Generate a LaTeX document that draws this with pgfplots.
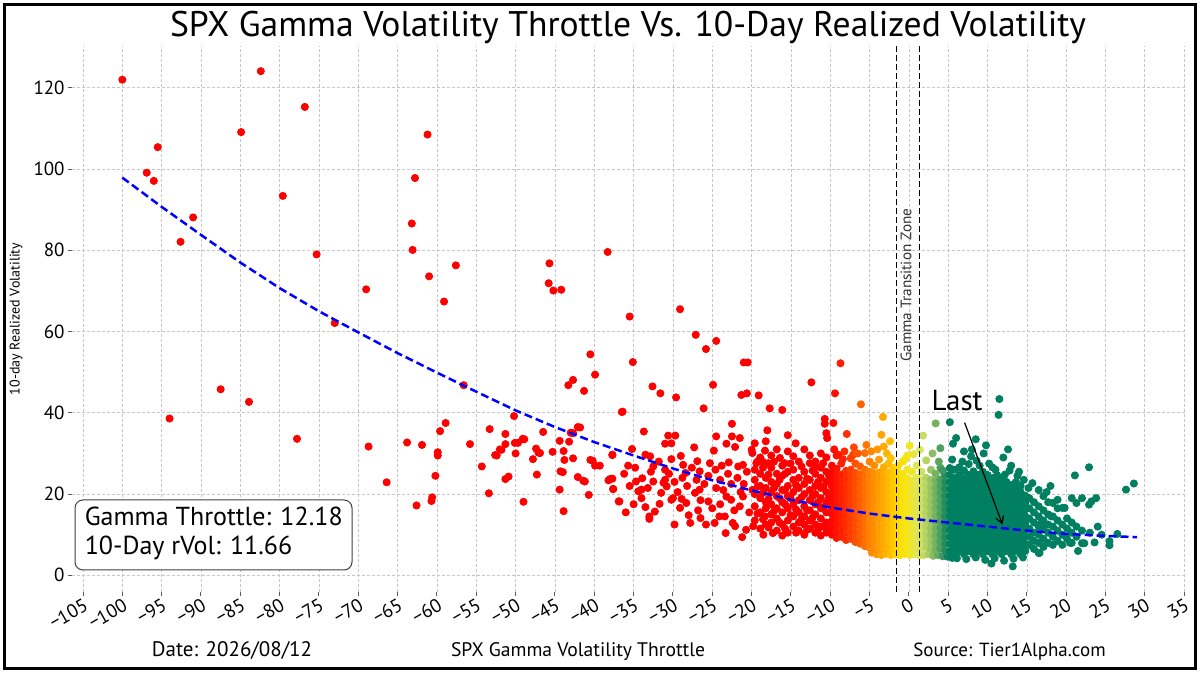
\documentclass[border=0pt]{standalone}
\usepackage{pgfplots}
\pgfplotsset{compat=1.18}
\usepackage{fontspec}
\setmainfont{PT Sans}
\usetikzlibrary{arrows.meta}
\begin{document}
\begin{tikzpicture}
\path[use as bounding box] (0,0) rectangle (600pt,339.5pt);
\begin{axis}[
  at={(36pt,43.5pt)}, anchor=south west,
  scale only axis, width=556.5pt, height=273pt,
  xmin=-106.4, xmax=35.1, ymin=-4.1, ymax=130.3,
  clip mode=individual,
  axis line style={draw=none},
  xtick={-105,-100,...,35},
  xticklabels={−105,−100,−95,−90,−85,−80,−75,−70,−65,−60,−55,−50,−45,−40,−35,−30,−25,−20,−15,−10,−5,0,5,10,15,20,25,30,35},
  ytick={0,20,40,60,80,100,120},
  yticklabels={0,20,40,60,80,100,120},
  tick pos=left, tick align=outside, major tick length=2pt,
  tick style={color=black!65, line width=0.5pt},
  xticklabel style={rotate=30, anchor=north east, inner sep=0.5pt, font=\fontsize{9.5}{10}\selectfont},
  yticklabel style={font=\fontsize{9.5}{10}\selectfont, inner sep=1.5pt},
  grid=major,
  grid style={color=black!22, line width=0.4pt, dash pattern=on 1.5pt off 1pt},
  colormap={throttle}{rgb255(0pt)=(255,0,0) rgb255(20pt)=(255,45,0) rgb255(40pt)=(255,100,0) rgb255(50pt)=(255,130,0) rgb255(70pt)=(255,175,0) rgb255(84pt)=(255,210,0) rgb255(90pt)=(250,225,0) rgb255(100pt)=(245,230,30) rgb255(114pt)=(215,230,100) rgb255(125pt)=(170,205,100) rgb255(135pt)=(110,175,95) rgb255(143pt)=(60,150,95) rgb255(150pt)=(0,128,96)},
  point meta min=-10, point meta max=5,
]
\addplot[scatter, only marks, mark=*, mark size=1.8pt, scatter src=x,
  scatter/use mapped color={draw=mapped color, fill=mapped color}] coordinates {
(-100,122.0)(-82.4,124.1)(-76.8,115.3)(-84.9,109.1)(-61.2,108.5)(-95.5,105.4)(-96.9,99.1)(-96.0,97.1)(-62.8,97.8)(-79.6,93.4)
(-91.0,88.1)(-92.6,82.1)(-63.2,86.6)(-63.1,80.1)(-75.3,79.0)(-57.6,76.3)(-61.0,73.6)(-45.7,76.8)(-45.8,71.9)(-45.2,70.1)
(-44.2,70.3)(-69.0,70.4)(-59.1,67.4)(-73.0,62.1)(-94.0,38.6)(-87.5,45.8)(-83.9,42.7)(-77.8,33.6)(-68.7,31.7)(-66.4,22.9)
(-63.8,32.7)(-61.9,32.1)(-62.6,17.2)(-59.9,30.3)(-59.9,29.5)(-60.2,24.5)(-59.6,35.5)(-58.9,37.5)(-60.6,19.2)(-60.7,18.3)
(-56.6,46.8)(-55.8,32.3)(-54.3,26.8)(-53.3,36.0)(-53.4,20.2)(-52.6,29.6)(-52.0,31.0)(-51.3,34.8)(-51.3,32.3)(-51.3,23.7)
(-50.9,24.3)(-50.2,39.2)(-50.1,32.6)(-49.7,32.6)(-50.0,30.0)(-49.1,33.6)(-49.0,18.1)(-47.8,28.6)(-47.4,31.2)(-47.1,30.2)
(-47.3,24.8)(-46.5,35.3)(-45.3,30.4)(-44.4,33.1)(-43.9,30.6)(-43.8,28.4)(-44.3,25.6)(-44.4,21.1)(-43.9,15.8)(-43.2,32.9)
(-43.0,35.1)(-42.7,28.8)(-42.1,36.5)(-42.1,24.2)(-41.4,23.3)(-40.7,19.8)(-40.5,28.4)(-39.9,27.0)(-43.3,46.8)(-42.7,48.1)
(-41.3,45.4)(-40.5,54.4)(-39.9,49.4)(-52.4,29.5)(-51.8,30.9)(-48.9,33.5)(-46.9,30.1)(-42.7,35.0)(-41.8,36.4)(-44.0,25.4)
(-41.2,23.1)(-40.2,28.2)(-38.2,23.4)(-37.7,23.8)(-37.6,21.3)(-37.7,29.6)(-36.9,18.2)(-36.5,40.2)(-38.3,79.6)
(-35.5,63.7)(-29.1,65.5)(-27.1,59.2)(-24.5,57.7)(-25.8,55.7)(-35.1,52.5)(-21.0,52.4)(-20.5,52.4)(-8.7,52.2)(-12.4,47.5)
(-9.4,44.8)(-6.1,42.1)(-32.6,46.5)(-31.6,44.8)(-29.6,43.8)(-24.9,46.9)(-21.3,44.4)(-20.6,44.8)(-19.1,44.3)(-26.1,41.1)
(-17.7,41.1)(-16.1,40.7)(-36.4,40.3)(-3.3,39.0)(-3.5,34.6)(-3.2,31.7)(-5.4,32.1)(-7.9,34.8)(-10.7,38.5)(-10.7,37.3)
(-9.6,37.5)(-10.5,35.0)(-10.4,33.8)(-33.7,35.4)(-30.6,34.4)(-29.7,34.4)(-22.5,37.3)(-24.5,34.2)(-22.5,34.2)(-21.5,33.8)
(-18.0,35.7)(-14.4,32.5)(-23.2,32.4)(-22.1,31.6)(-27.3,31.5)(-31.0,32.4)(-30.2,32.5)(-24.8,30.7)(-20.0,30.9)(-19.9,30.1)
(-18.3,30.7)(-14.7,29.3)(-35.2,31.1)(-37.7,29.7)(-33.5,29.7)(-32.9,29.3)(-29.0,29.4)(-26.9,28.1)(-25.3,27.6)(-22.9,27.8)
(-39.3,27.0)(-35.7,27.0)(-32.5,26.8)(-30.2,28.6)(-28.7,27.2)(-28.4,25.2)(-26.6,25.6)(-23.8,27.0)(-21.7,26.8)(-21.1,27.2)
(-19.4,27.6)(-18.6,28.0)(-17.9,27.6)(-16.4,28.9)(-15.8,27.6)(-12.6,27.6)(-11.8,26.8)(-10.9,27.6)(-9.0,29.7)(-8.4,28.6)
(-7.1,29.7)(-5.6,30.1)(-38.0,23.7)(-37.6,21.2)(-36.8,18.2)(-33.5,16.8)(-33.0,14.5)(-33.0,13.9)(-31.7,17.6)(-32.3,15.7)
(-29.8,12.5)(-28.9,18.8)
(-34.7,23.1)(-33.9,23.9)(-32.5,23.1)(-34.0,21.1)(-34.4,20.7)(-31.5,20.3)(-31.0,26.0)(-31.0,23.5)(-30.8,21.9)(-30.2,18.6)
(-30.0,19.0)(-29.1,16.6)(-28.3,17.8)(-27.2,20.3)(-26.6,21.1)(-27.8,12.9)(-26.5,14.1)(-25.8,12.5)(-25.5,18.2)(-24.5,21.5)
(-24.7,12.9)(-23.3,10.4)(-23.4,14.5)(-24.1,14.5)(-23.2,19.4)(-22.4,12.9)(-22.1,12.1)(-22.6,18.6)(-21.5,17.0)(-21.1,19.4)
(-21.2,9.4)(-20.7,11.2)(-19.8,12.1)(-18.5,10.0)(-18.3,14.5)(-17.3,10.4)(-16.1,9.8)
(-36.2,25.0)(-35.5,22.0)(-34.8,26.5)(-34.0,19.0)(-33.2,21.5)(-32.8,25.5)(-31.8,28.0)(-31.2,22.8)(-30.5,25.0)(-29.8,23.0)
(-29.4,20.5)(-28.8,24.0)(-28.2,22.0)(-27.6,26.5)(-27.0,23.5)(-26.5,18.5)(-26.0,22.5)(-25.5,24.5)(-25.0,16.5)(-24.6,26.0)
(-24.0,23.5)(-23.6,21.0)(-23.0,25.0)(-22.6,22.5)(-22.2,16.0)(-21.8,24.0)(-21.4,20.5)(-21.0,22.5)(-20.6,25.5)(-20.3,15.5)
(-19.9,21.0)(-36.0,15.5)(-35.0,17.5)(-28.0,14.8)(-26.8,16.0)(-24.0,17.5)
(-19.6,13.5)(-19.6,17.0)(-19.6,20.0)(-19.6,23.5)(-19.6,26.0)(-19.6,32.5)
(-18.9,11.5)(-18.9,15.5)(-18.9,19.0)(-18.9,22.0)(-18.9,25.0)(-18.9,29.0)
(-18.2,12.5)(-18.2,16.5)(-18.2,18.0)(-18.2,21.5)(-18.2,24.0)(-18.2,33.0)
(-17.5,13.0)(-17.5,15.0)(-17.5,17.5)(-17.5,20.5)(-17.5,23.0)(-17.5,26.5)(-17.5,29.5)
(-16.8,11.0)(-16.8,14.0)(-16.8,16.5)(-16.8,19.5)(-16.8,22.5)(-16.8,25.0)(-16.8,31.0)
(-16.1,12.5)(-16.1,15.5)(-16.1,18.0)(-16.1,21.0)(-16.1,24.5)(-16.1,27.0)
(-15.4,10.5)(-15.4,13.5)(-15.4,16.5)(-15.4,19.5)(-15.4,22.0)(-15.4,25.5)(-15.4,30.5)(-15.4,34.5)
(-14.7,12.0)(-14.7,14.5)(-14.7,17.5)(-14.7,20.5)(-14.7,23.5)(-14.7,26.0)
(-14.0,11.0)(-14.0,13.0)(-14.0,15.5)(-14.0,18.5)(-14.0,21.5)(-14.0,24.0)(-14.0,28.0)
(-13.3,10.0)(-13.3,12.5)(-13.3,14.5)(-13.3,17.0)(-13.3,20.0)(-13.3,22.5)(-13.3,25.5)(-13.3,31.0)
(-12.6,11.5)(-12.6,13.5)(-12.6,16.0)(-12.6,18.5)(-12.6,21.0)(-12.6,23.5)(-12.6,29.5)
(-11.9,10.5)(-11.9,12.5)(-11.9,15.0)(-11.9,17.5)(-11.9,20.0)(-11.9,22.0)(-11.9,25.0)(-11.9,28.0)
(-11.2,9.8)(-11.2,12.0)(-11.2,14.0)(-11.2,16.5)(-11.2,19.0)(-11.2,21.5)(-11.2,24.0)(-11.2,26.5)(-11.2,30.0)
(-10.5,10.5)(-10.5,13.0)(-10.5,15.5)(-10.5,18.0)(-10.5,20.5)(-10.5,23.0)(-10.5,25.5)(-10.5,29.0)
(-19.25,15.2)(-19.25,21.8)(-19.25,28.0)(-18.55,13.8)(-18.55,20.3)(-18.55,26.5)(-17.85,11.8)(-17.85,18.8)(-17.85,24.8)
(-17.15,15.8)(-17.15,21.5)(-17.15,28.0)(-16.45,13.0)(-16.45,19.0)(-16.45,23.5)(-15.75,11.5)(-15.75,17.5)(-15.75,21.0)
(-15.75,25.0)(-15.05,14.8)(-15.05,19.0)(-15.05,27.5)(-14.35,10.5)(-14.35,16.2)(-14.35,22.2)(-13.65,13.8)(-13.65,19.2)
(-13.65,26.8)(-12.95,11.2)(-12.95,16.0)(-12.95,23.8)(-12.25,14.2)(-12.25,19.5)(-12.25,25.8)(-11.55,11.3)(-11.55,18.0)
(-11.55,23.0)(-10.85,12.0)(-10.85,16.8)(-10.85,21.8)(-10.15,11.5)(-10.15,19.2)(-10.15,24.5)
(-9.8,10.0)(-9.8,11.7)(-9.8,13.4)(-9.8,15.1)(-9.8,16.8)(-9.8,18.5)(-9.8,20.2)(-9.8,21.9)(-9.8,23.6)(-9.8,25.3)(-9.8,27.0)
(-9.2,9.2)(-9.2,10.9)(-9.2,12.6)(-9.2,14.3)(-9.2,16.0)(-9.2,17.7)(-9.2,19.4)(-9.2,21.1)(-9.2,22.8)(-9.2,24.5)(-9.2,26.2)(-9.2,29.5)
(-8.6,9.5)(-8.6,11.2)(-8.6,12.9)(-8.6,14.6)(-8.6,16.3)(-8.6,18.0)(-8.6,19.7)(-8.6,21.4)(-8.6,23.1)(-8.6,24.8)(-8.6,27.5)
(-8.0,8.7)(-8.0,10.4)(-8.0,12.1)(-8.0,13.8)(-8.0,15.5)(-8.0,17.2)(-8.0,18.9)(-8.0,20.6)(-8.0,22.3)(-8.0,24.0)(-8.0,25.7)
(-7.4,9.0)(-7.4,10.7)(-7.4,12.4)(-7.4,14.1)(-7.4,15.8)(-7.4,17.5)(-7.4,19.2)(-7.4,20.9)(-7.4,22.6)(-7.4,24.3)(-7.4,26.0)(-7.4,28.8)
(-6.8,8.2)(-6.8,9.9)(-6.8,11.6)(-6.8,13.3)(-6.8,15.0)(-6.8,16.7)(-6.8,18.4)(-6.8,20.1)(-6.8,21.8)(-6.8,23.5)(-6.8,25.2)(-6.8,27.5)
(-6.2,7.8)(-6.2,9.5)(-6.2,11.2)(-6.2,12.9)(-6.2,14.6)(-6.2,16.3)(-6.2,18.0)(-6.2,19.7)(-6.2,21.4)(-6.2,23.1)(-6.2,24.8)(-6.2,26.8)
(-5.6,7.2)(-5.6,8.9)(-5.6,10.6)(-5.6,12.3)(-5.6,14.0)(-5.6,15.7)(-5.6,17.4)(-5.6,19.1)(-5.6,20.8)(-5.6,22.5)(-5.6,24.2)(-5.6,26.0)
(-5.0,6.8)(-5.0,8.5)(-5.0,10.2)(-5.0,11.9)(-5.0,13.6)(-5.0,15.3)(-5.0,17.0)(-5.0,18.7)(-5.0,20.4)(-5.0,22.1)(-5.0,23.8)(-5.0,25.5)(-5.0,28.0)
(-4.4,6.4)(-4.4,8.1)(-4.4,9.8)(-4.4,11.5)(-4.4,13.2)(-4.4,14.9)(-4.4,16.6)(-4.4,18.3)(-4.4,20.0)(-4.4,21.7)(-4.4,23.4)(-4.4,25.1)(-4.4,27.0)
(-3.8,6.6)(-3.8,8.3)(-3.8,10.0)(-3.8,11.7)(-3.8,13.4)(-3.8,15.1)(-3.8,16.8)(-3.8,18.5)(-3.8,20.2)(-3.8,21.9)(-3.8,23.6)(-3.8,25.3)(-3.8,28.5)
(-3.2,6.2)(-3.2,7.9)(-3.2,9.6)(-3.2,11.3)(-3.2,13.0)(-3.2,14.7)(-3.2,16.4)(-3.2,18.1)(-3.2,19.8)(-3.2,21.5)(-3.2,23.2)(-3.2,24.9)(-3.2,26.6)
(-2.6,6.5)(-2.6,8.2)(-2.6,9.9)(-2.6,11.6)(-2.6,13.3)(-2.6,15.0)(-2.6,16.7)(-2.6,18.4)(-2.6,20.1)(-2.6,21.8)(-2.6,23.5)(-2.6,25.2)(-2.6,27.5)
(-2.0,6.0)(-2.0,7.7)(-2.0,9.4)(-2.0,11.1)(-2.0,12.8)(-2.0,14.5)(-2.0,16.2)(-2.0,17.9)(-2.0,19.6)(-2.0,21.3)(-2.0,23.0)(-2.0,24.7)(-2.0,26.4)
(-9.5,31.0)(-8.2,30.5)(-7.0,31.5)(-6.5,30.0)(-4.8,30.5)(-4.0,31.0)(-2.8,30.0)(-2.4,33.0)(-2.3,28.8)
(-4.7,5.6)(-4.1,5.2)(-3.5,5.0)(-2.9,5.3)(-2.3,5.0)(-1.7,5.2)(-1.1,5.0)(-0.5,5.3)(0.1,5.0)(0.7,5.2)(1.3,4.9)(1.9,5.0)
(2.5,5.2)(3.1,4.8)(3.7,5.0)(4.3,4.7)(4.9,4.6)(5.5,4.3)(6.1,4.2)(7.3,4.0)(8.5,4.4)(9.7,3.8)(10.9,4.2)(12.1,3.6)(13.3,4.1)(14.5,4.4)
(-1.4,6.6)(-1.4,8.3)(-1.4,10.0)(-1.4,11.7)(-1.4,13.4)(-1.4,15.1)(-1.4,16.8)(-1.4,18.5)(-1.4,20.2)(-1.4,21.9)(-1.4,23.6)(-1.4,25.3)(-1.4,27.0)
(-0.8,6.2)(-0.8,7.9)(-0.8,9.6)(-0.8,11.3)(-0.8,13.0)(-0.8,14.7)(-0.8,16.4)(-0.8,18.1)(-0.8,19.8)(-0.8,21.5)(-0.8,23.2)(-0.8,24.9)(-0.8,28.0)
(-0.2,6.8)(-0.2,8.5)(-0.2,10.2)(-0.2,11.9)(-0.2,13.6)(-0.2,15.3)(-0.2,17.0)(-0.2,18.7)(-0.2,20.4)(-0.2,22.1)(-0.2,23.8)(-0.2,26.0)(-0.2,29.5)
(0.4,6.3)(0.4,8.0)(0.4,9.7)(0.4,11.4)(0.4,13.1)(0.4,14.8)(0.4,16.5)(0.4,18.2)(0.4,19.9)(0.4,21.6)(0.4,23.3)(0.4,25.5)
(1.0,6.7)(1.0,8.4)(1.0,10.1)(1.0,11.8)(1.0,13.5)(1.0,15.2)(1.0,16.9)(1.0,18.6)(1.0,20.3)(1.0,22.0)(1.0,24.0)(1.0,27.0)
(0.1,31.9)(0.6,29.8)(-0.5,28.5)
(1.6,6.4)(1.6,8.1)(1.6,9.8)(1.6,11.5)(1.6,13.2)(1.6,14.9)(1.6,16.6)(1.6,18.3)(1.6,20.0)(1.6,21.7)(1.6,23.4)(1.6,25.5)
(2.2,6.9)(2.2,8.6)(2.2,10.3)(2.2,12.0)(2.2,13.7)(2.2,15.4)(2.2,17.1)(2.2,18.8)(2.2,20.5)(2.2,22.2)(2.2,24.0)(2.2,28.3)
(2.8,6.5)(2.8,8.2)(2.8,9.9)(2.8,11.6)(2.8,13.3)(2.8,15.0)(2.8,16.7)(2.8,18.4)(2.8,20.1)(2.8,21.8)(2.8,23.5)(2.8,26.0)
(3.4,6.2)(3.4,7.9)(3.4,9.6)(3.4,11.3)(3.4,13.0)(3.4,14.7)(3.4,16.4)(3.4,18.1)(3.4,19.8)(3.4,21.5)(3.4,23.2)(3.4,25.0)(3.4,37.4)
(4.0,6.6)(4.0,8.3)(4.0,10.0)(4.0,11.7)(4.0,13.4)(4.0,15.1)(4.0,16.8)(4.0,18.5)(4.0,20.2)(4.0,21.9)(4.0,23.6)(4.0,26.5)(4.0,31.3)
(4.6,6.0)(4.6,7.7)(4.6,9.4)(4.6,11.1)(4.6,12.8)(4.6,14.5)(4.6,16.2)(4.6,17.9)(4.6,19.6)(4.6,21.3)(4.6,23.0)(4.6,24.7)
(1.8,34.4)(1.4,30.9)(3.0,30.0)(3.8,28.0)(4.3,25.8)
(5.2,6.0)(5.2,7.7)(5.2,9.4)(5.2,11.1)(5.2,12.8)(5.2,14.5)(5.2,16.2)(5.2,17.9)(5.2,19.6)(5.2,21.3)(5.2,23.0)(5.2,24.7)(5.2,26.4)
(5.8,5.2)(5.8,6.9)(5.8,8.6)(5.8,10.3)(5.8,12.0)(5.8,13.7)(5.8,15.4)(5.8,17.1)(5.8,18.8)(5.8,20.5)(5.8,22.2)(5.8,23.9)(5.8,26.0)
(6.4,6.0)(6.4,7.7)(6.4,9.4)(6.4,11.1)(6.4,12.8)(6.4,14.5)(6.4,16.2)(6.4,17.9)(6.4,19.6)(6.4,21.3)(6.4,23.0)(6.4,24.7)(6.4,26.6)
(7.0,5.2)(7.0,6.9)(7.0,8.6)(7.0,10.3)(7.0,12.0)(7.0,13.7)(7.0,15.4)(7.0,17.1)(7.0,18.8)(7.0,20.5)(7.0,22.2)(7.0,23.9)(7.0,25.8)
(7.6,6.0)(7.6,7.7)(7.6,9.4)(7.6,11.1)(7.6,12.8)(7.6,14.5)(7.6,16.2)(7.6,17.9)(7.6,19.6)(7.6,21.3)(7.6,23.0)(7.6,24.7)(7.6,27.4)
(8.2,5.2)(8.2,6.9)(8.2,8.6)(8.2,10.3)(8.2,12.0)(8.2,13.7)(8.2,15.4)(8.2,17.1)(8.2,18.8)(8.2,20.5)(8.2,22.2)(8.2,23.9)(8.2,25.6)
(8.8,6.0)(8.8,7.7)(8.8,9.4)(8.8,11.1)(8.8,12.8)(8.8,14.5)(8.8,16.2)(8.8,17.9)(8.8,19.6)(8.8,21.3)(8.8,23.0)(8.8,24.7)(8.6,28.2)
(9.4,5.2)(9.4,6.9)(9.4,8.6)(9.4,10.3)(9.4,12.0)(9.4,13.7)(9.4,15.4)(9.4,17.1)(9.4,18.8)(9.4,20.5)(9.4,22.2)(9.4,23.9)(9.4,25.5)
(10.0,6.0)(10.0,7.7)(10.0,9.4)(10.0,11.1)(10.0,12.8)(10.0,14.5)(10.0,16.2)(10.0,17.9)(10.0,19.6)(10.0,21.3)(10.0,23.0)(10.0,24.7)
(10.6,5.2)(10.6,6.9)(10.6,8.6)(10.6,10.3)(10.6,12.0)(10.6,13.7)(10.6,15.4)(10.6,17.1)(10.6,18.8)(10.6,20.5)(10.6,22.2)(10.6,23.9)(10.6,26.6)
(11.2,6.0)(11.2,7.7)(11.2,9.4)(11.2,11.1)(11.2,12.8)(11.2,14.5)(11.2,16.2)(11.2,17.9)(11.2,19.6)(11.2,21.3)(11.2,23.0)(11.2,24.7)
(11.8,5.2)(11.8,6.9)(11.8,8.6)(11.8,10.3)(11.8,12.0)(11.8,13.7)(11.8,15.4)(11.8,17.1)(11.8,18.8)(11.8,20.5)(11.8,22.2)(11.8,23.9)
(12.4,6.0)(12.4,7.7)(12.4,9.4)(12.4,11.1)(12.4,12.8)(12.4,14.5)(12.4,16.2)(12.4,17.9)(12.4,19.6)(12.4,21.3)(12.4,23.0)(12.2,24.8)
(13.0,5.2)(13.0,6.9)(13.0,8.6)(13.0,10.3)(13.0,12.0)(13.0,13.7)(13.0,15.4)(13.0,17.1)(13.0,18.8)(13.0,20.5)(13.0,22.2)
(13.6,6.0)(13.6,7.7)(13.6,9.4)(13.6,11.1)(13.6,12.8)(13.6,14.5)(13.6,16.2)(13.6,17.9)(13.6,19.6)(13.6,21.3)(13.6,23.0)
(14.2,5.2)(14.2,6.9)(14.2,8.6)(14.2,10.3)(14.2,12.0)(14.2,13.7)(14.2,15.4)(14.2,17.1)(14.2,18.8)(14.2,20.5)(14.2,22.0)
(14.8,6.0)(14.8,7.7)(14.8,9.4)(14.8,11.1)(14.8,12.8)(14.8,14.5)(14.8,16.2)(14.8,17.9)(14.8,19.6)
(5.5,28.5)(6.8,28.0)(7.9,29.3)(9.0,27.0)(10.2,27.5)(11.0,26.0)(12.8,25.8)(13.8,24.5)(14.6,23.5)(15.2,21.5)(9.8,32.0)(8.5,33.5)(12.6,31.0)
(15.3,7.5)(15.3,9.5)(15.3,11.5)(15.3,14.0)(15.3,16.5)(15.3,19.0)
(15.9,6.5)(15.9,8.5)(15.9,10.5)(15.9,13.0)(15.9,15.5)(15.9,18.0)(15.7,22.7)
(16.5,5.5)(16.5,8.0)(16.5,10.0)(16.5,12.0)(16.5,14.5)(16.5,17.0)
(17.1,7.0)(17.1,9.0)(17.1,11.5)(17.1,13.5)(17.1,16.0)(17.1,19.5)
(17.7,8.0)(17.7,10.5)(17.7,12.5)(17.7,15.0)(17.7,18.0)
(18.3,7.5)(18.3,9.5)(18.3,12.0)(18.3,14.5)(18.3,17.8)
(18.9,8.5)(18.9,11.0)(18.9,13.5)(18.9,16.5)(18.9,18.6)
(19.5,7.5)(19.5,10.0)(19.5,12.5)(19.5,16.6)
(20.1,9.0)(20.1,11.5)(20.1,14.0)
(20.7,8.0)(20.7,10.5)(20.7,13.0)(20.7,19.0)
(21.3,9.5)(21.3,12.0)(21.3,17.8)
(22.0,11.0)(22.0,7.9)(22.0,19.0)
(22.9,26.6)(21.1,24.6)(27.6,21.1)(28.6,22.6)(26.5,10.2)(25.5,8.4)(25.5,7.4)(23.6,8.1)(22.3,7.9)(23.8,19.0)
(22.9,17.4)(23.2,18.2)(19.8,16.6)(18.1,14.5)(16.8,12.9)(16.6,5.5)(24.0,12.0)(23.0,10.5)(24.5,10.0)(20.5,8.0)
(21.5,6.0)(10.5,2.9)(13.2,2.2)(11.5,43.4)(11.4,39.5)(5.2,37.7)(6.0,33.8)(5.6,32.4)(7.0,30.5)(9.5,30.0)
(8.0,31.0)(12.0,29.0)(13.0,27.0)(14.0,25.5)(16.5,21.0)(17.5,20.5)(18.0,22.0)
};
\addplot[blue, line width=1.25pt, dash pattern=on 4pt off 2pt] coordinates {
(-100,97.9)(-95,90.7)(-90,83.8)(-85,77.0)(-80,70.7)(-75,65.0)(-70,59.8)(-65,54.7)(-60,49.9)(-55,45.2)
(-50,40.6)(-45,36.5)(-40,32.8)(-35,29.5)(-30,26.3)(-25,23.4)(-20,20.9)(-15,18.6)(-10,16.7)(-5,15.2)
(0,14.0)(5,13.0)(10,12.0)(15,11.0)(20,10.2)(25,9.7)(29,9.4)
};
\addplot[black, line width=0.7pt, dash pattern=on 3pt off 1.5pt] coordinates {(-1.6,-4.1) (-1.6,130.3)};
\addplot[black, line width=0.7pt, dash pattern=on 3pt off 1.5pt] coordinates {(1.35,-4.1) (1.35,130.3)};
\node[rotate=90, anchor=base west, inner sep=0pt, font=\fontsize{7.6}{8}\selectfont, text=black!80] at (axis cs:0.3,52.5) {Gamma Transition Zone};
\node[anchor=base west, inner sep=0pt, font=\fontsize{14.5}{16}\selectfont] at (axis cs:2.85,40.6) {Last};
\draw[-{Straight Barb[length=3.5pt,width=4pt]}, line width=0.6pt] (axis cs:7.08,37.6) -- (axis cs:11.9,12.5);
\end{axis}
\node[anchor=base, font=\fontsize{17.8}{19}\selectfont] at (314pt,321.2pt) {SPX Gamma Volatility Throttle Vs. 10-Day Realized Volatility};
\node[rotate=90, anchor=center, font=\fontsize{7}{8}\selectfont] at (8pt,180pt) {10-day Realized Volatility};
\node[anchor=base, font=\fontsize{10.5}{11}\selectfont] at (116pt,11pt) {Date: 2026/08/12};
\node[anchor=base, font=\fontsize{9.8}{11}\selectfont] at (289pt,11pt) {SPX Gamma Volatility Throttle};
\node[anchor=base, font=\fontsize{9.5}{11}\selectfont] at (504.75pt,11pt) {Source: Tier1Alpha.com};
\draw[black!75, line width=0.5pt, fill=white, rounded corners=4pt] (37.5pt,54.5pt) rectangle (176pt,89.5pt);
\node[anchor=base west, inner sep=0pt, font=\fontsize{13}{14}\selectfont] at (42.2pt,76.5pt) {Gamma Throttle: 12.18};
\node[anchor=base west, inner sep=0pt, font=\fontsize{13}{14}\selectfont] at (42.2pt,62pt) {10-Day rVol: 11.66};
\draw[black, line width=1.5pt] (2.25pt,5.25pt) rectangle (597.5pt,337pt);
\end{tikzpicture}
\end{document}
